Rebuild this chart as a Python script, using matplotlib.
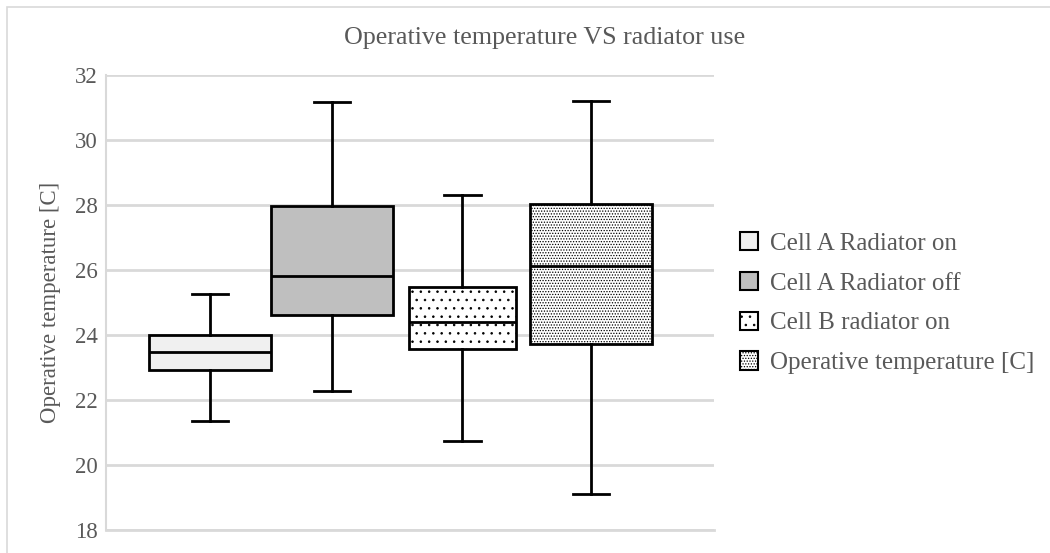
import matplotlib.pyplot as plt
from matplotlib.patches import Patch, Rectangle

plt.rcParams['font.family'] = ['Liberation Serif', 'DejaVu Serif']
plt.rcParams['hatch.linewidth'] = 0.6

# Box plot summary values
labels = ["Cell A Radiator on", "Cell A Radiator off", "Cell B radiator on", "Operative temperature [C]"]
whisker_low = [21.35, 22.28, 20.74, 19.10]
q1 = [22.92, 24.62, 23.57, 23.72]
median = [23.48, 25.82, 24.40, 26.12]
q3 = [24.00, 27.97, 25.48, 28.03]
whisker_high = [25.26, 31.17, 28.31, 31.20]
yticks = [18, 20, 22, 24, 26, 28, 30, 32]

# styling
fills = ["#f0f0f0", "#bfbfbf", "white", "white"]
hatches = [None, None, "..", "......"]
positions = [0.171, 0.372, 0.586, 0.798]
widths = [0.201, 0.201, 0.176, 0.201]
text_col = "#595959"
grid_col = "#d9d9d9"

fig = plt.figure(figsize=(10.5, 5.53), dpi=100)
fig.patches.append(Rectangle((7 / 1050, -0.1), 1.2, (1 - 7 / 553) + 0.1, transform=fig.transFigure,
                             fill=False, edgecolor=grid_col, linewidth=1.2))
ax = fig.add_axes([106 / 1050, 1 - 530 / 553, (714 - 106) / 1050, (530 - 75) / 553])

stats = []
for i in range(len(labels)):
    stats.append(dict(label=labels[i], whislo=whisker_low[i], q1=q1[i], med=median[i],
                      q3=q3[i], whishi=whisker_high[i], fliers=[]))

bp = ax.bxp(stats, positions=positions, widths=widths, patch_artist=True, showfliers=False,
            manage_ticks=False,
            boxprops=dict(linewidth=2, edgecolor="black"),
            medianprops=dict(color="black", linewidth=2),
            whiskerprops=dict(color="black", linewidth=2),
            capprops=dict(color="black", linewidth=2),
            capwidths=0.06)
for box, fc, h in zip(bp["boxes"], fills, hatches):
    box.set_facecolor(fc)
    if h:
        box.set_hatch(h)

ax.set_xlim(0, 1)
ax.set_ylim(18, 32)
ax.set_yticks(yticks)
ax.set_xticks([])
ax.yaxis.grid(True, color=grid_col, linewidth=2)
ax.set_axisbelow(True)
for s in ["top", "right"]:
    ax.spines[s].set_visible(False)
ax.spines["left"].set_color(grid_col)
ax.spines["left"].set_linewidth(1.5)
ax.spines["bottom"].set_color(grid_col)
ax.spines["bottom"].set_linewidth(2)
ax.tick_params(axis="y", length=0, labelsize=16.5, labelcolor=text_col, pad=6)
ax.set_ylabel("Operative temperature [C]", fontsize=16.5, color=text_col, labelpad=10)

fig.text(545 / 1050, 1 - 38 / 553, "Operative temperature VS radiator use", ha="center", va="center",
         fontsize=18.7, color=text_col)

handles = [Patch(facecolor=fc, edgecolor="black", hatch=h, linewidth=1.5) for fc, h in zip(fills, hatches)]
fig.legend(handles, labels, loc="center left", bbox_to_anchor=(717 / 1050, 1 - 303 / 553), frameon=False,
           fontsize=18, labelcolor=text_col, handlelength=0.75, handleheight=0.75, handletextpad=0.45,
           labelspacing=0.68)

fig.savefig("out.png", dpi=100)
